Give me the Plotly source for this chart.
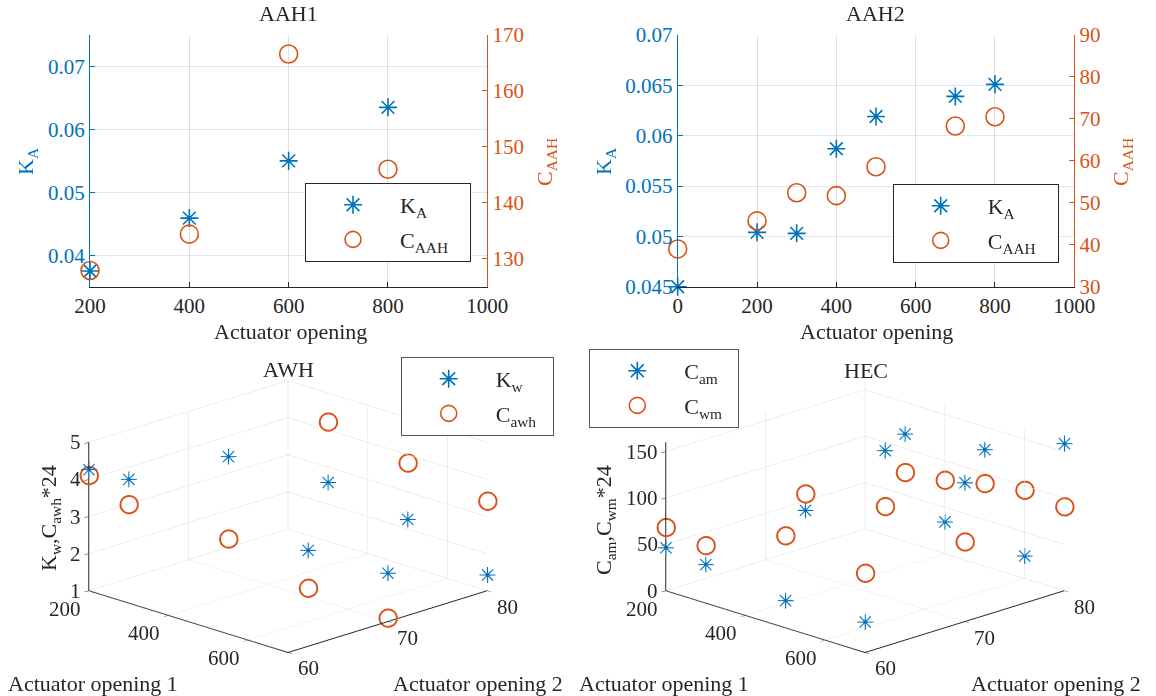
import plotly.graph_objects as go

FONT = "Liberation Serif"
BLUE = "#0072BD"
ORANGE = "#D95319"
W, H = 1156, 696

# ---------------- data ----------------
# AAH1
aah1_x = [200, 400, 600, 800]
aah1_ka = [0.0375, 0.0459, 0.0550, 0.0635]
aah1_caah = [127.9, 134.4, 166.6, 146.0]

# AAH2
aah2_x = [0, 200, 300, 400, 500, 700, 800]
aah2_ka = [0.0450, 0.0504, 0.0503, 0.0587, 0.0619, 0.0639, 0.0651]
aah2_caah = [39.0, 45.7, 52.4, 51.7, 58.6, 68.3, 70.5]

# AWH (3D)
awh_open1 = [200, 300, 300, 500, 300, 700, 500, 700]
awh_open2 = [60, 60, 70, 70, 80, 70, 80, 80]
awh_kw = [4.27, 4.34, 4.12, 2.26, 2.59, 2.31, 2.26, 1.43]
awh_cawh = [4.11, 3.66, 1.90, 1.24, 4.22, 1.10, 3.78, 3.42]

# HEC (3D)
hec_open1 = [200, 300, 500, 700, 300, 500, 300, 400, 700, 500, 600, 700]
hec_open2 = [60, 60, 60, 60, 70, 70, 80, 80, 70, 80, 80, 80]
hec_cam = [46.5, 41.7, 29.5, 33.0, 66.8, 157.9, 115.8, 34.4, 149.9, 125.6, 24.3, 158.8]
hec_cwm = [68.4, 62.2, 99.4, 85.7, 84.6, 97.6, 74.4, 79.4, 86.1, 89.1, 95.2, 90.7]

# tick labels
aah1_xticks = [200, 400, 600, 800, 1000]
aah1_lticks = [0.04, 0.05, 0.06, 0.07]
aah1_rticks = [130, 140, 150, 160, 170]
aah2_xticks = [0, 200, 400, 600, 800, 1000]
aah2_lticks = [0.045, 0.05, 0.055, 0.06, 0.065, 0.07]
aah2_rticks = [30, 40, 50, 60, 70, 80, 90]
open1_ticks = [200, 400, 600]
open2_ticks = [60, 70, 80]
awh_zticks = [1, 2, 3, 4, 5]
hec_zticks = [0, 50, 100, 150]


def px(x):
    return x / W


def py(y):
    return 1 - y / H


fig = go.Figure()

STAR = dict(symbol="asterisk-open", size=15, color=BLUE, line=dict(color=BLUE, width=1.6))
CIRC = dict(symbol="circle-open", size=18, color=ORANGE, line=dict(color=ORANGE, width=1.6))
NB = "\u00a0"

# AAH1
fig.add_trace(go.Scatter(x=aah1_x, y=aah1_ka, mode="markers", marker=STAR, name="K<sub>A</sub>",
                         xaxis="x", yaxis="y", legend="legend", legendgroup="a1", cliponaxis=False))
fig.add_trace(go.Scatter(x=aah1_x, y=aah1_caah, mode="markers", marker=CIRC, name="C<sub>AAH</sub>" + NB * 3,
                         xaxis="x", yaxis="y2", legend="legend", legendgroup="a2", cliponaxis=False))
# AAH2
fig.add_trace(go.Scatter(x=aah2_x, y=aah2_ka, mode="markers", marker=STAR, name="K<sub>A</sub>",
                         xaxis="x2", yaxis="y3", legend="legend2", legendgroup="b1", cliponaxis=False))
fig.add_trace(go.Scatter(x=aah2_x, y=aah2_caah, mode="markers", marker=CIRC, name="C<sub>AAH</sub>" + NB * 3,
                         xaxis="x2", yaxis="y4", legend="legend2", legendgroup="b2", cliponaxis=False))

STAR3 = dict(family="DejaVu Sans", size=22, color=BLUE)
# AWH 3D
fig.add_trace(go.Scatter3d(x=awh_open1, y=awh_open2, z=awh_kw, mode="text", text=["\u2733"] * len(awh_kw),
                           textposition="middle center", textfont=STAR3, scene="scene", showlegend=False))
fig.add_trace(go.Scatter3d(x=awh_open1, y=awh_open2, z=awh_cawh, mode="markers",
                           marker=dict(symbol="circle-open", size=11, color=ORANGE),
                           scene="scene", showlegend=False))
# HEC 3D
fig.add_trace(go.Scatter3d(x=hec_open1, y=hec_open2, z=hec_cam, mode="text", text=["\u2733"] * len(hec_cam),
                           textposition="middle center", textfont=STAR3, scene="scene2", showlegend=False))
fig.add_trace(go.Scatter3d(x=hec_open1, y=hec_open2, z=hec_cwm, mode="markers",
                           marker=dict(symbol="circle-open", size=11, color=ORANGE),
                           scene="scene2", showlegend=False))

# legend-only entries for 3D plots
fig.add_trace(go.Scatter(x=[None], y=[None], mode="markers", marker=STAR, name="K<sub>w</sub>",
                         xaxis="x", yaxis="y", legend="legend3", legendgroup="c1"))
fig.add_trace(go.Scatter(x=[None], y=[None], mode="markers", marker=CIRC, name="C<sub>awh</sub>" + NB * 2,
                         xaxis="x", yaxis="y", legend="legend3", legendgroup="c2"))
fig.add_trace(go.Scatter(x=[None], y=[None], mode="markers", marker=STAR, name="C<sub>am</sub>",
                         xaxis="x", yaxis="y", legend="legend4", legendgroup="d1"))
fig.add_trace(go.Scatter(x=[None], y=[None], mode="markers", marker=CIRC, name="C<sub>wm</sub>" + NB * 2,
                         xaxis="x", yaxis="y", legend="legend4", legendgroup="d2"))

TICKF = dict(family=FONT, size=21)
YDOM = [py(286.7), py(35)]

xcommon = dict(showline=True, linecolor="#262626", linewidth=1, ticks="inside", ticklen=5,
               tickcolor="#262626", showgrid=True, gridcolor="rgba(38,38,38,0.15)", zeroline=False,
               tickfont=dict(TICKF, color="#262626"), mirror=False)


def lax(color, rng, vals, dom, anchor, grid=True):
    return dict(range=rng, tickvals=vals, domain=dom, anchor=anchor, showline=True, linecolor=color,
                linewidth=1, ticks="inside", ticklen=5, tickcolor=color, showgrid=grid,
                gridcolor="rgba(0,114,189,0.15)", zeroline=False, tickfont=dict(TICKF, color=color))


layout = dict(
    width=W, height=H, margin=dict(l=0, r=0, t=0, b=0, autoexpand=False), paper_bgcolor="white",
    plot_bgcolor="white", font=dict(family=FONT, size=21, color="#262626"), showlegend=True,
    xaxis=dict(xcommon, range=[200, 1000], tickvals=aah1_xticks, domain=[px(90), px(487.3)], anchor="y"),
    yaxis=lax(BLUE, [0.035, 0.075], aah1_lticks, YDOM, "x"),
    yaxis2=dict(lax(ORANGE, [125, 170], aah1_rticks, YDOM, "x", grid=False), overlaying="y", side="right"),
    xaxis2=dict(xcommon, range=[0, 1000], tickvals=aah2_xticks, domain=[px(677.7), px(1074.3)], anchor="y3"),
    yaxis3=lax(BLUE, [0.045, 0.07], aah2_lticks, YDOM, "x2"),
    yaxis4=dict(lax(ORANGE, [30, 90], aah2_rticks, YDOM, "x2", grid=False), overlaying="y3", side="right"),
)

LEG = dict(bgcolor="white", bordercolor="#262626", borderwidth=1, font=dict(family=FONT, size=22, color="#262626"),
           xanchor="left", yanchor="top", itemwidth=84, traceorder="grouped", tracegroupgap=3)
layout["legend"] = dict(LEG, x=px(305), y=py(183))
layout["legend2"] = dict(LEG, x=px(892.7), y=py(184))
layout["legend3"] = dict(LEG, x=px(400.7), y=py(357), bordercolor="#555555")
layout["legend4"] = dict(LEG, x=px(589.3), y=py(349), bordercolor="#555555")

ax3 = dict(showbackground=False, showgrid=True, gridcolor="#dcdcdc", gridwidth=1, showline=True,
           linecolor="#262626", linewidth=2, ticks="outside", ticklen=6, tickcolor="#262626",
           showticklabels=False, title=dict(text=""), zeroline=False, showspikes=False)

r = 2.5
K = 1.57
cam = dict(eye=dict(x=r * 0.6723, y=-r * 0.6723, z=r * 0.31), up=dict(x=0, y=0, z=1),
           center=dict(x=0, y=0, z=0), projection=dict(type="orthographic"))
SY = [0, py(337)]
TF3 = dict(family=FONT, size=21, color="#262626")


def scene_ticks(zvals, zmin):
    out = []
    for v in open1_ticks:
        out.append(dict(x=v, y=60, z=zmin, text=str(v), showarrow=False, xanchor="center", yanchor="middle",
                        xshift=-24, yshift=-18, font=TF3))
    for v in open2_ticks:
        out.append(dict(x=700, y=v, z=zmin, text=str(v), showarrow=False, xanchor="center", yanchor="middle",
                        xshift=20, yshift=-16, font=TF3))
    for v in zvals:
        out.append(dict(x=200, y=60, z=v, text=str(v), showarrow=False, xanchor="right", yanchor="middle",
                        xshift=-6, yshift=0, font=TF3))
    return out


ASPECT = dict(x=K, y=K, z=0.554 * K)
layout["scene"] = dict(domain=dict(x=[0, px(576)], y=SY), camera=cam, aspectmode="manual",
                       aspectratio=ASPECT,
                       xaxis=dict(ax3, range=[200, 700], tickvals=open1_ticks),
                       yaxis=dict(ax3, range=[60, 80], tickvals=open2_ticks),
                       zaxis=dict(ax3, range=[1, 5], tickvals=awh_zticks),
                       annotations=scene_ticks(awh_zticks, 1))
layout["scene2"] = dict(domain=dict(x=[px(576), px(1154)], y=SY), camera=cam, aspectmode="manual",
                        aspectratio=ASPECT,
                        xaxis=dict(ax3, range=[200, 700], tickvals=open1_ticks),
                        yaxis=dict(ax3, range=[60, 80], tickvals=open2_ticks),
                        zaxis=dict(ax3, range=[0, 160], tickvals=hec_zticks),
                        annotations=scene_ticks(hec_zticks, 0))

fig.update_layout(**layout)

ann = []


def A(text, x, y, size=22, angle=0, color="#262626"):
    ann.append(dict(text=text, x=px(x), y=py(y), xref="paper", yref="paper", showarrow=False,
                    textangle=angle, font=dict(family=FONT, size=size, color=color),
                    xanchor="center", yanchor="middle"))


A("AAH1", 288, 14)
A("AAH2", 875, 14)
A("Actuator opening", 290, 331)
A("Actuator opening", 876, 331)
A("K<sub>A</sub>", 27, 162, angle=-90, color=BLUE)
A("C<sub>AAH</sub>", 546, 162, angle=-90, color=ORANGE)
A("K<sub>A</sub>", 605, 162, angle=-90, color=BLUE)
A("C<sub>AAH</sub>", 1122, 162, angle=-90, color=ORANGE)
A("AWH", 288, 369)
A("HEC", 866, 370)
A("Actuator opening 1", 93, 683)
A("Actuator opening 2", 478, 683)
A("Actuator opening 1", 664, 683)
A("Actuator opening 2", 1056, 683)
A("K<sub>w</sub>,C<sub>awh</sub>*24", 50, 518, angle=-90)
A("C<sub>am</sub>,C<sub>wm</sub>*24", 605, 520, angle=-90)
fig.update_layout(annotations=ann)

fig.write_html("out.html", config={"displayModeBar": False},
               post_script="document.body.style.margin='0';document.body.style.overflow='hidden';")
